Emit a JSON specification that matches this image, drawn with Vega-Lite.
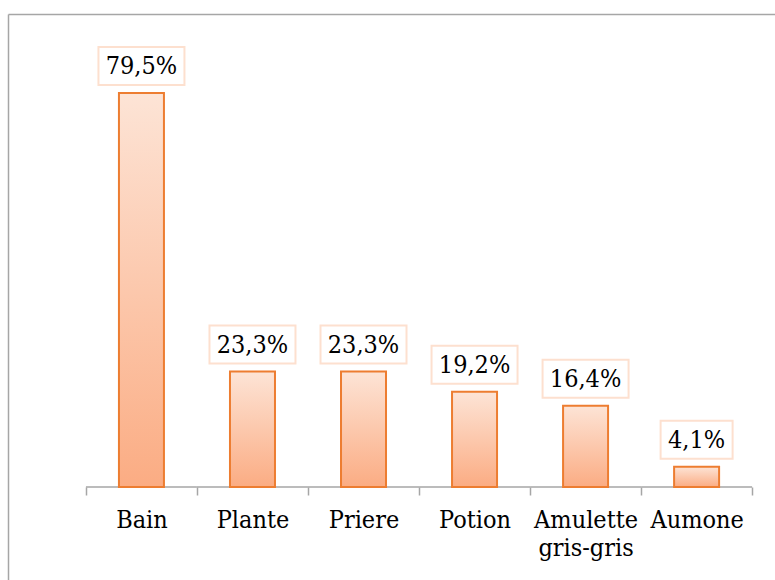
{
  "$schema": "https://vega.github.io/schema/vega-lite/v6.json",
  "width": 767,
  "height": 566,
  "autosize": {"type": "none"},
  "padding": {"left": 8, "top": 14, "right": 0, "bottom": 0},
  "background": "white",
  "config": {
    "view": {"stroke": null},
    "font": "DejaVu Serif Condensed",
    "locale": {"number": {"decimal": ",", "thousands": " ", "grouping": [3], "currency": ["", " €"]}}
  },
  "data": {
    "values": [
      {"category": "Bain", "value": 0.795},
      {"category": "Plante", "value": 0.233},
      {"category": "Priere", "value": 0.233},
      {"category": "Potion", "value": 0.192},
      {"category": "Amulette\ngris-gris", "value": 0.164},
      {"category": "Aumone", "value": 0.041}
    ]
  },
  "encoding": {
    "x": {
      "field": "category",
      "type": "nominal",
      "sort": null,
      "scale": {"paddingInner": 0, "paddingOuter": 0.454, "align": 0.773},
      "axis": {
        "title": null,
        "orient": "bottom",
        "offset": -93,
        "domain": false,
        "labelAngle": 0,
        "labelFont": "DejaVu Serif Condensed",
        "labelFontSize": 25,
        "labelColor": "#000000",
        "labelBaseline": "alphabetic",
        "labelPadding": 32,
        "labelLineHeight": 28,
        "labelExpr": "split(datum.label, '\\n')",
        "tickBand": "extent",
        "tickSize": 8,
        "tickColor": "#a6a6a6",
        "tickWidth": 1.5
      }
    },
    "y": {
      "field": "value",
      "type": "quantitative",
      "scale": {"domain": [-0.1877, 0.9544], "nice": false, "zero": false},
      "axis": {
        "title": null,
        "values": [0.9544],
        "labels": false,
        "ticks": false,
        "grid": true,
        "gridColor": "#a6a6a6",
        "gridWidth": 1.5,
        "gridOpacity": 1,
        "domain": true,
        "domainColor": "#a6a6a6",
        "domainWidth": 1.5
      }
    }
  },
  "layer": [
    {
      "mark": {"type": "tick", "size": 111, "thickness": 1.5, "color": "#a6a6a6", "opacity": 1},
      "encoding": {"y": {"datum": 0, "type": "quantitative"}}
    },
    {
      "mark": {
        "type": "bar",
        "width": 45,
        "stroke": "#ed7d31",
        "strokeWidth": 2,
        "fill": {
          "gradient": "linear",
          "x1": 0, "y1": 0, "x2": 0, "y2": 1,
          "stops": [
            {"offset": 0, "color": "#fde4d6"},
            {"offset": 1, "color": "#fbac83"}
          ]
        }
      }
    },
    {
      "transform": [{"filter": "datum.value >= 0.1"}],
      "mark": {"type": "bar", "width": 86, "fill": "white", "stroke": "#fde0cf", "strokeWidth": 2, "yOffset": -46, "y2Offset": -8},
      "encoding": {"y2": {"field": "value"}}
    },
    {
      "transform": [{"filter": "datum.value < 0.1"}],
      "mark": {"type": "bar", "width": 72, "fill": "white", "stroke": "#fde0cf", "strokeWidth": 2, "yOffset": -46, "y2Offset": -8},
      "encoding": {"y2": {"field": "value"}}
    },
    {
      "mark": {"type": "text", "font": "DejaVu Serif Condensed", "fontSize": 25, "color": "#000000", "baseline": "middle", "dy": -27},
      "encoding": {"text": {"field": "value", "type": "quantitative", "format": ".1%"}}
    }
  ]
}
